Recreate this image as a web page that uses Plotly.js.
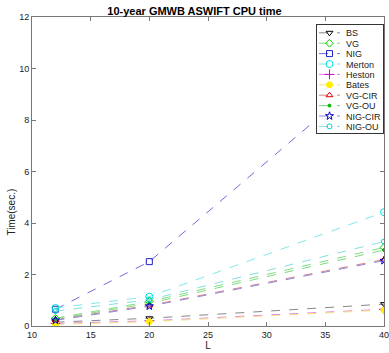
<!DOCTYPE html>
<html><head><meta charset="utf-8">
<script src="https://cdn.plot.ly/plotly-3.0.1.min.js"></script>
<style>body{margin:0;padding:0;background:#fff}#c{width:389px;height:353px}</style>
</head><body><div id="c"></div>
<script>
const L = [12, 20, 40];
const names = ["BS","VG","NIG","Merton","Heston","Bates","VG-CIR","VG-OU","NIG-CIR","NIG-OU"];
const BS = [0.15, 0.30, 0.85];
const VG = [0.30, 0.95, 3.05];
const NIG = [0.65, 2.50, 10.25];
const Merton = [0.70, 1.14, 4.42];
const Heston = [0.10, 0.20, 0.65];
const Bates = [0.06, 0.17, 0.62];
const VG_CIR = [0.25, 0.80, 2.58];
const VG_OU = [0.27, 0.88, 2.95];
const NIG_CIR = [0.22, 0.77, 2.54];
const NIG_OU = [0.58, 1.02, 3.28];
const series = [BS, VG, NIG, Merton, Heston, Bates, VG_CIR, VG_OU, NIG_CIR, NIG_OU];
const lineColors = ["#888888","#7fdc7f","#6b6bdc","#7fe8e8","#e27fe2","#f2e27f","#e07f7f","#80d880","#8a8ae0","#80e0e0"];
const markerColors = ["#000000","#00cc00","#2222cc","#00dddd","#cc00cc","#ffee00","#dd0000","#00bb00","#0000cc","#00cccc"];
const symbols = ["triangle-down-open","diamond-open","square-open","circle-open","cross-thin-open","circle","triangle-up-open","circle","star-open","circle-open"];
const sizes = [6,6,6,7,7,6,6,3,6,5];
const traces = series.map((y,i)=>({
  x: L, y: y, name: names[i], type: "scatter", mode: "lines+markers",
  line: {color: lineColors[i], width: 1, dash: "dash"},
  marker: {symbol: symbols[i], color: markerColors[i], size: sizes[i], line: {color: markerColors[i], width: 1}}
}));
const layout = {
  width: 389, height: 353,
  margin: {l: 32, r: 5, t: 17, b: 27},
  paper_bgcolor: "#fff", plot_bgcolor: "#fff",
  font: {family: "Liberation Sans, Arial, sans-serif", size: 9, color: "#222"},
  title: {text: "<b>10-year GMWB ASWIFT CPU time</b>", font: {size: 11, color: "#000"}, x: 0.5, xanchor: "center", y: 0.978, yanchor: "top"},
  xaxis: {range: [10, 40], tickvals: [10,15,20,25,30,35,40], ticks: "inside", ticklen: 4, tickcolor: "#777",
          showline: true, linecolor: "#777", mirror: "ticks", showgrid: false, zeroline: false, ticklabeloverflow: "allow",
          title: {text: "L", font: {size: 10}, standoff: 3}},
  yaxis: {range: [0, 12], tickvals: [0,2,4,6,8,10,12], ticks: "inside", ticklen: 4, tickcolor: "#777",
          showline: true, linecolor: "#777", mirror: "ticks", showgrid: false, zeroline: false},
  annotations: [{text: "Time(sec.)", xref: "paper", yref: "paper", x: -0.057, y: 0.37, textangle: -90,
                 showarrow: false, font: {size: 10, color: "#222"}, xanchor: "center", yanchor: "middle"}],
  showlegend: true,
  legend: {x: 0.997, xanchor: "right", y: 0.98, yanchor: "top", bgcolor: "#fff", bordercolor: "#333", borderwidth: 1,
           font: {size: 9}, tracegroupgap: 0, itemwidth: 30},
};
Plotly.newPlot("c", traces, layout, {staticPlot: true, displayModeBar: false}).then(gd => {
  const leg = gd.querySelector("g.legend");
  if (!leg) return;
  leg.setAttribute("transform", "translate(316,24)");
  const bg = leg.querySelector("rect.bg");
  if (bg) { bg.setAttribute("x", 0.5); bg.setAttribute("y", 0.5); bg.setAttribute("width", 67); bg.setAttribute("height", 109); }
  const sb = leg.querySelector("g.scrollbox");
  if (sb) sb.setAttribute("transform", "translate(0,0)");
  leg.querySelectorAll("g.groups").forEach(g => g.setAttribute("transform", "translate(0,0)"));
  leg.querySelectorAll("g.traces").forEach((t, i) => {
    t.setAttribute("transform", `translate(0,${8.8 + i * 10.4})`);
    t.querySelectorAll(".legendlines path").forEach(p => p.setAttribute("d", "M3,0h21"));
    t.querySelectorAll(".legendpoints path").forEach(p => p.setAttribute("transform", "translate(13.5,0)"));
    const tx = t.querySelector("text.legendtext");
    if (tx) tx.setAttribute("x", 30);
  });
});
</script></body></html>
